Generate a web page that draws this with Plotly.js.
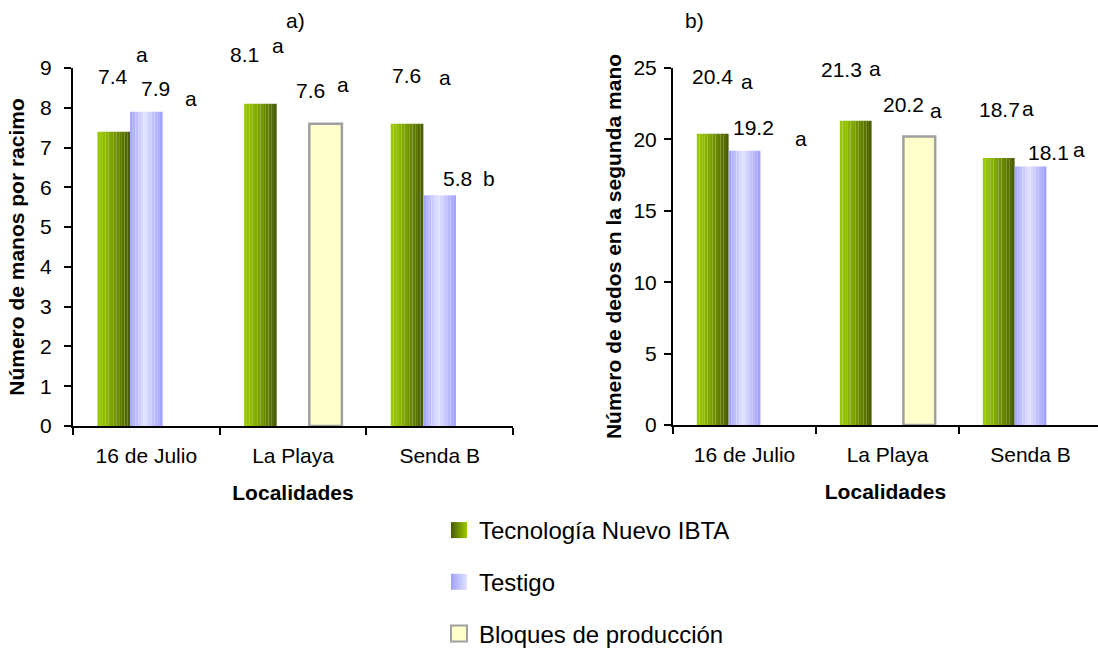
<!DOCTYPE html>
<html>
<head>
<meta charset="utf-8">
<script src="https://cdn.plot.ly/plotly-3.0.1.min.js"></script>
<style>
  html, body { margin: 0; padding: 0; background: #ffffff; }
  #chart { width: 1098px; height: 651px; }
</style>
</head>
<body>
<div id="chart"></div>
<script>
// ---------- DATA ----------
const categories = ["16 de Julio", "La Playa", "Senda B"];
const seriesNames = ["Tecnología Nuevo IBTA", "Testigo", "Bloques de producción"];

// a) Número de manos por racimo
const manosTec  = [7.4, 8.1, 7.6];
const manosTest = [7.9, null, 5.8];
const manosBloq = [null, 7.6, null];
const manosTecLetters  = ["a", "a", "a"];
const manosTestLetters = ["a", null, "b"];
const manosBloqLetters = [null, "a", null];

// b) Número de dedos en la segunda mano
const dedosTec  = [20.4, 21.3, 18.7];
const dedosTest = [19.2, null, 18.1];
const dedosBloq = [null, 20.2, null];
const dedosTecLetters  = ["a", "a", "a"];
const dedosTestLetters = ["a", null, "a"];
const dedosBloqLetters = [null, "a", null];

// ---------- LABEL PLACEMENT (pixel shifts from bar top centre of category) ----------
const manosTecValShift  = [[-33, 55.6], [-48.5, 49.1], [-33, 48.4]];
const manosTecLetShift  = [[-4, 77.6], [-15, 58.5], [5.5, 45.7]];
const manosTestValShift = [[9, 23.7], null, [17.5, 16.3]];
const manosTestLetShift = [[44.5, 13.7], null, [49.5, 16.3]];
const manosBloqValShift = [null, [17.5, 33.4], null];
const manosBloqLetShift = [null, [50, 39], null];

const dedosTecValShift  = [[-32, 57.4], [-46.5, 51.1], [-31, 48.3]];
const dedosTecLetShift  = [[2.5, 52.4], [-13, 52.8], [-3, 49]];
const dedosTestValShift = [[9.2, 23.8], null, [18, 14.2]];
const dedosTestLetShift = [[56.5, 12.8], null, [48, 17.5]];
const dedosBloqValShift = [null, [16, 31.8], null];
const dedosBloqLetShift = [null, [48.5, 26.2], null];

// ---------- STYLE ----------
const FONT = "Liberation Sans, Arial, sans-serif";
const W = 2 / 9;          // bar width in category units (gap width 150%)
const NSTRIP = 12;
const greenStops = [[0, [156, 202, 0]], [0.25, [140, 184, 0]], [1, [72, 90, 0]]];
const blueStops  = [[0, [160, 160, 255]], [0.45, [226, 226, 255]], [1, [156, 156, 255]]];
const bloqFill = "#ffffcc";
const bloqLine = "#a0a0a0";

function interp(stops, t) {
  for (let i = 0; i < stops.length - 1; i++) {
    const [p0, c0] = stops[i], [p1, c1] = stops[i + 1];
    if (t >= p0 && t <= p1) {
      const f = (t - p0) / (p1 - p0);
      const c = c0.map((v, j) => Math.round(v + (c1[j] - v) * f));
      return "rgb(" + c.join(",") + ")";
    }
  }
  const c = stops[stops.length - 1][1];
  return "rgb(" + c.join(",") + ")";
}

function stripTraces(values, xa, ya, slot, stops) {
  const out = [];
  for (let k = 0; k < NSTRIP; k++) {
    out.push({
      type: "bar", x: categories, y: values, xaxis: xa, yaxis: ya,
      offset: -1.5 * W + slot * W + k * W / NSTRIP,
      width: W / NSTRIP,
      marker: { color: interp(stops, (k + 0.5) / NSTRIP), line: { width: 0 } },
      showlegend: false, hoverinfo: "skip"
    });
  }
  return out;
}

function plainBar(values, xa, ya, slot) {
  return {
    type: "bar", x: categories, y: values, xaxis: xa, yaxis: ya,
    offset: -1.5 * W + slot * W, width: W,
    marker: { color: bloqFill, line: { color: bloqLine, width: 2.5 } },
    showlegend: false, hoverinfo: "skip"
  };
}

const LABEL_SIZE = 21;
function labels(values, letters, valShift, letShift, xa, ya) {
  const out = [];
  values.forEach((v, i) => {
    if (v === null) return;
    out.push({ xref: xa, yref: ya, x: categories[i], y: v, text: v.toFixed(1),
      xshift: valShift[i][0], yshift: valShift[i][1], showarrow: false,
      xanchor: "center", yanchor: "middle", font: { family: FONT, size: LABEL_SIZE, color: "#000" } });
    if (letters[i]) out.push({ xref: xa, yref: ya, x: categories[i], y: v, text: letters[i],
      xshift: letShift[i][0], yshift: letShift[i][1], showarrow: false,
      xanchor: "center", yanchor: "middle", font: { family: FONT, size: LABEL_SIZE, color: "#000" } });
  });
  return out;
}

// ---------- TRACES ----------
let traces = [];
traces = traces.concat(stripTraces(manosTec, "x", "y", 0, greenStops));
traces = traces.concat(stripTraces(manosTest, "x", "y", 1, blueStops));
traces.push(plainBar(manosBloq, "x", "y", 2));
traces = traces.concat(stripTraces(dedosTec, "x2", "y2", 0, greenStops));
traces = traces.concat(stripTraces(dedosTest, "x2", "y2", 1, blueStops));
traces.push(plainBar(dedosBloq, "x2", "y2", 2));

// legend proxies
traces.push({ type: "scatter", mode: "markers", x: [null], y: [null], name: seriesNames[0], legendgroup: "g1",
  marker: { symbol: "square", size: 18, color: "rgb(72,90,0)", gradient: { type: "horizontal", color: "rgb(156,202,0)" } } });
traces.push({ type: "scatter", mode: "markers", x: [null], y: [null], name: seriesNames[1], legendgroup: "g2",
  marker: { symbol: "square", size: 18, color: "rgb(160,160,255)", gradient: { type: "horizontal", color: "rgb(226,226,255)" } } });
traces.push({ type: "scatter", mode: "markers", x: [null], y: [null], name: seriesNames[2], legendgroup: "g3",
  marker: { symbol: "square", size: 18, color: bloqFill, line: { color: bloqLine, width: 2 } } });

// ---------- LAYOUT ----------
const Wpx = 1098, Hpx = 651;
const axisCommon = {
  showline: true, linecolor: "#000", linewidth: 2, mirror: false,
  ticks: "outside", tickcolor: "#000", tickwidth: 2, ticklen: 7,
  showgrid: false, zeroline: false, fixedrange: true,
  tickfont: { family: FONT, size: 21, color: "#000" }
};
const titleFont = { family: FONT, size: 21, color: "#000", weight: 700 };

const layout = {
  width: Wpx, height: Hpx,
  margin: { l: 0, r: 0, t: 0, b: 0, autoexpand: false },
  paper_bgcolor: "#fff", plot_bgcolor: "rgba(0,0,0,0)",
  barmode: "overlay",
  showlegend: true,
  legend: {
    x: 439 / Wpx, y: 1 - 508 / Hpx, xanchor: "left", yanchor: "top",
    font: { family: FONT, size: 24, color: "#000" },
    tracegroupgap: 17.5, bgcolor: "rgba(0,0,0,0)", traceorder: "grouped"
  },
  xaxis: Object.assign({}, axisCommon, {
    domain: [73 / Wpx, 513 / Wpx], anchor: "y", type: "category",
    categoryorder: "array", categoryarray: categories,
    range: [-0.5, 2.5], tickson: "boundaries", ticklabelstandoff: 10,
    title: { text: "Localidades", font: titleFont, standoff: 19 }
  }),
  yaxis: Object.assign({}, axisCommon, {
    domain: [1 - 426 / Hpx, 1 - 68 / Hpx], anchor: "x",
    range: [0, 9], dtick: 1, tick0: 0, ticklabelstandoff: 8,
    title: { text: "Número de manos por racimo", font: titleFont, standoff: 10 }
  }),
  xaxis2: Object.assign({}, axisCommon, {
    domain: [673 / Wpx, 1], anchor: "y2", type: "category",
    categoryorder: "array", categoryarray: categories,
    range: [-0.5, -0.5 + 425 / 143], tickson: "boundaries", ticklabelstandoff: 10,
    title: { text: "Localidades", font: titleFont, standoff: 19 }
  }),
  yaxis2: Object.assign({}, axisCommon, {
    domain: [1 - 425 / Hpx, 1 - 68 / Hpx], anchor: "x2",
    range: [0, 25], dtick: 5, tick0: 0, ticklabelstandoff: 3,
    title: { text: "Número de dedos en la segunda mano", font: titleFont, standoff: 6 }
  }),
  annotations: [].concat(
    labels(manosTec, manosTecLetters, manosTecValShift, manosTecLetShift, "x", "y"),
    labels(manosTest, manosTestLetters, manosTestValShift, manosTestLetShift, "x", "y"),
    labels(manosBloq, manosBloqLetters, manosBloqValShift, manosBloqLetShift, "x", "y"),
    labels(dedosTec, dedosTecLetters, dedosTecValShift, dedosTecLetShift, "x2", "y2"),
    labels(dedosTest, dedosTestLetters, dedosTestValShift, dedosTestLetShift, "x2", "y2"),
    labels(dedosBloq, dedosBloqLetters, dedosBloqValShift, dedosBloqLetShift, "x2", "y2"),
    [
      { xref: "paper", yref: "paper", x: 295 / Wpx, y: 1 - 20 / Hpx, text: "a)", showarrow: false,
        xanchor: "center", yanchor: "middle", font: { family: FONT, size: 21, color: "#000" } },
      { xref: "paper", yref: "paper", x: 694 / Wpx, y: 1 - 20 / Hpx, text: "b)", showarrow: false,
        xanchor: "center", yanchor: "middle", font: { family: FONT, size: 21, color: "#000" } }
    ]
  )
};

Plotly.newPlot("chart", traces, layout, { displayModeBar: false, staticPlot: true });
</script>
</body>
</html>
